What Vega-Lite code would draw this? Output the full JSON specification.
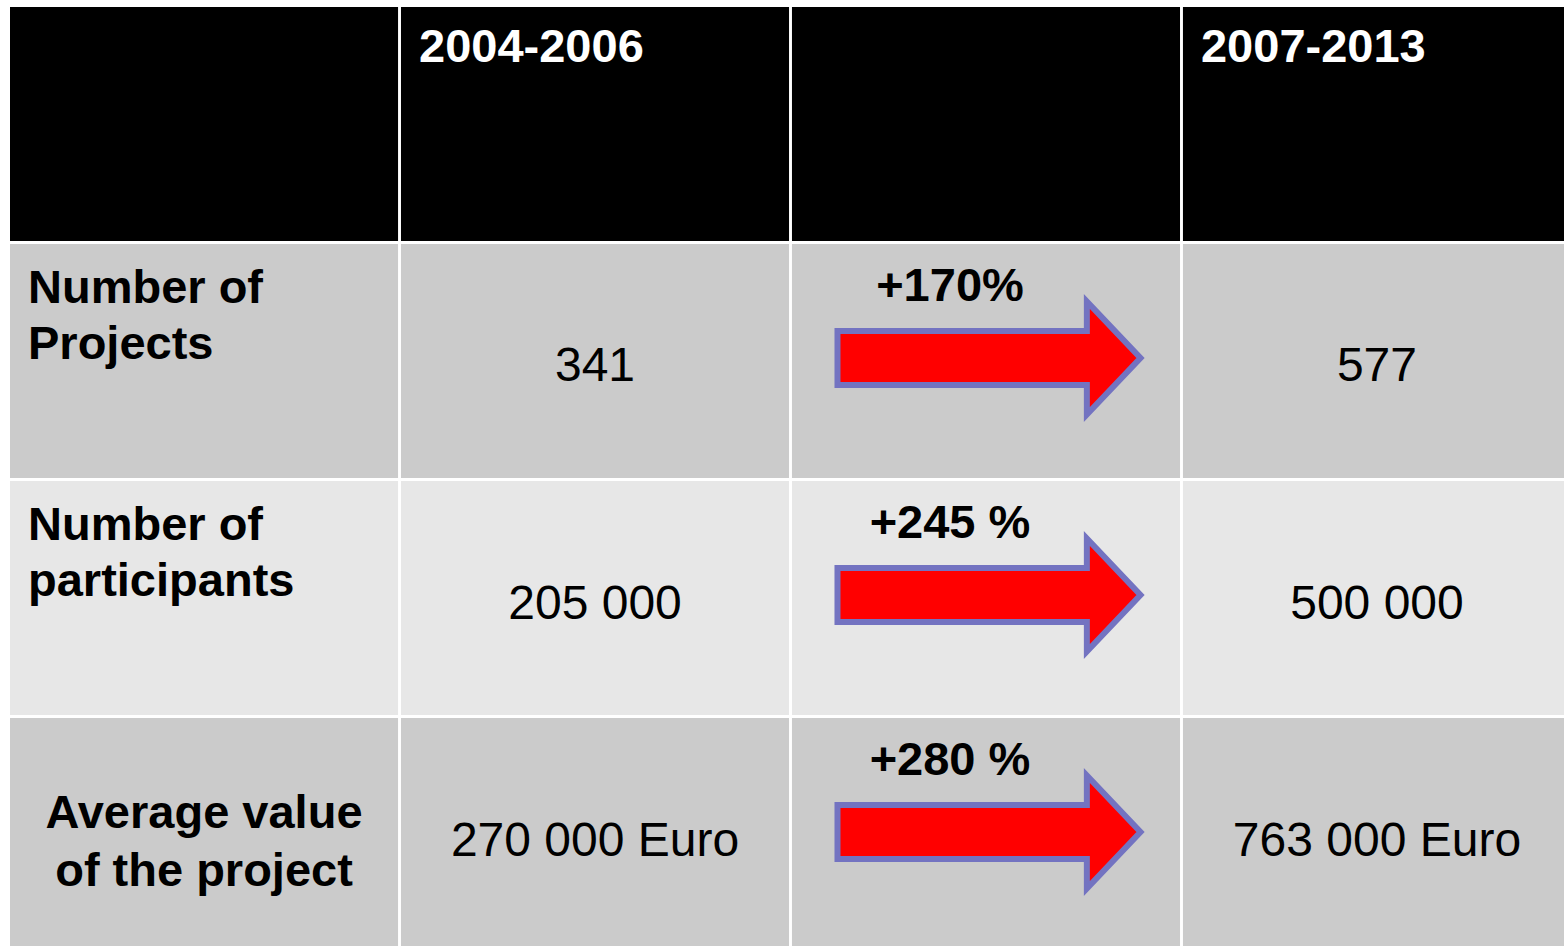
{
  "$schema": "https://vega.github.io/schema/vega-lite/v6.json",
  "width": 1564,
  "height": 946,
  "autosize": "none",
  "padding": 0,
  "background": "white",
  "config": {"view": {"stroke": null}, "font": "Liberation Sans"},
  "datasets": {
    "grid": [
      {"row": "Header", "col": "Indicator"},
      {"row": "Header", "col": "2004-2006"},
      {"row": "Header", "col": "Change"},
      {"row": "Header", "col": "2007-2013"},
      {"row": "Number of Projects", "col": "Indicator"},
      {"row": "Number of Projects", "col": "2004-2006"},
      {"row": "Number of Projects", "col": "Change"},
      {"row": "Number of Projects", "col": "2007-2013"},
      {"row": "Number of participants", "col": "Indicator"},
      {"row": "Number of participants", "col": "2004-2006"},
      {"row": "Number of participants", "col": "Change"},
      {"row": "Number of participants", "col": "2007-2013"},
      {"row": "Average value of the project", "col": "Indicator"},
      {"row": "Average value of the project", "col": "2004-2006"},
      {"row": "Average value of the project", "col": "Change"},
      {"row": "Average value of the project", "col": "2007-2013"}
    ],
    "cells": [
      {"row": "Header", "col": "2004-2006", "text": "2004-2006", "kind": "header"},
      {"row": "Header", "col": "2007-2013", "text": "2007-2013", "kind": "header"},
      {"row": "Number of Projects", "col": "Indicator", "text": "Number of\nProjects", "kind": "label_left"},
      {"row": "Number of participants", "col": "Indicator", "text": "Number of\nparticipants", "kind": "label_left"},
      {"row": "Average value of the project", "col": "Indicator", "text": "Average value\nof the project", "kind": "label_center"},
      {"row": "Number of Projects", "col": "2004-2006", "text": "341", "kind": "value"},
      {"row": "Number of Projects", "col": "2007-2013", "text": "577", "kind": "value"},
      {"row": "Number of participants", "col": "2004-2006", "text": "205 000", "kind": "value"},
      {"row": "Number of participants", "col": "2007-2013", "text": "500 000", "kind": "value"},
      {"row": "Average value of the project", "col": "2004-2006", "text": "270 000 Euro", "kind": "value"},
      {"row": "Average value of the project", "col": "2007-2013", "text": "763 000 Euro", "kind": "value"},
      {"row": "Number of Projects", "col": "Change", "text": "+170%", "kind": "pct"},
      {"row": "Number of participants", "col": "Change", "text": "+245 %", "kind": "pct"},
      {"row": "Average value of the project", "col": "Change", "text": "+280 %", "kind": "pct"}
    ]
  },
  "encoding": {
    "x": {
      "field": "col",
      "type": "ordinal",
      "scale": {
        "domain": ["Indicator", "2004-2006", "Change", "2007-2013"],
        "range": [10, 1571],
        "paddingInner": 0.0075,
        "paddingOuter": 0
      },
      "axis": null
    },
    "y": {
      "field": "row",
      "type": "ordinal",
      "scale": {
        "domain": ["Header", "Number of Projects", "Number of participants", "Average value of the project"],
        "range": [7, 952],
        "paddingInner": 0.0127,
        "paddingOuter": 0
      },
      "axis": null
    }
  },
  "layer": [
    {
      "data": {"name": "grid"},
      "mark": {"type": "rect", "opacity": 1},
      "encoding": {
        "color": {
          "field": "row",
          "type": "nominal",
          "scale": {
            "domain": ["Header", "Number of Projects", "Number of participants", "Average value of the project"],
            "range": ["#000000", "#cbcbcb", "#e7e7e7", "#cbcbcb"]
          },
          "legend": null
        }
      }
    },
    {
      "data": {"name": "cells"},
      "transform": [{"filter": "datum.kind === 'header'"}],
      "mark": {"type": "text", "align": "left", "baseline": "alphabetic", "dx": -176, "dy": -61.6, "fontSize": 47, "fontWeight": "bold", "color": "#ffffff"},
      "encoding": {"text": {"field": "text"}}
    },
    {
      "data": {"name": "cells"},
      "transform": [{"filter": "datum.kind === 'label_left'"}],
      "mark": {"type": "text", "align": "left", "baseline": "top", "dx": -176, "dy": -95, "fontSize": 47, "fontWeight": "bold", "color": "#000000", "lineBreak": "\n", "lineHeight": 56},
      "encoding": {"text": {"field": "text"}}
    },
    {
      "data": {"name": "cells"},
      "transform": [{"filter": "datum.kind === 'label_center'"}],
      "mark": {"type": "text", "align": "center", "baseline": "top", "dy": -44.5, "fontSize": 47, "fontWeight": "bold", "color": "#000000", "lineBreak": "\n", "lineHeight": 58},
      "encoding": {"text": {"field": "text"}}
    },
    {
      "data": {"name": "cells"},
      "transform": [{"filter": "datum.kind === 'value'"}],
      "mark": {"type": "text", "align": "center", "baseline": "alphabetic", "dy": 20.5, "fontSize": 48, "color": "#000000"},
      "encoding": {"text": {"field": "text"}}
    },
    {
      "data": {"name": "cells"},
      "transform": [{"filter": "datum.kind === 'pct'"}],
      "mark": {
        "type": "point",
        "shape": "M-1,-0.178L0.646,-0.178L0.646,-0.373L1,0L0.646,0.373L0.646,0.178L-1,0.178Z",
        "size": 91809,
        "filled": true,
        "fill": "#ff0000",
        "stroke": "#7373c1",
        "strokeWidth": 6,
        "strokeJoin": "miter",
        "opacity": 1,
        "fillOpacity": 1,
        "strokeOpacity": 1,
        "xOffset": 3,
        "yOffset": -3
      }
    },
    {
      "data": {"name": "cells"},
      "transform": [{"filter": "datum.kind === 'pct'"}],
      "mark": {"type": "text", "align": "center", "baseline": "alphabetic", "dx": -36, "dy": -60, "fontSize": 47, "fontWeight": "bold", "color": "#000000"},
      "encoding": {"text": {"field": "text"}}
    }
  ]
}
